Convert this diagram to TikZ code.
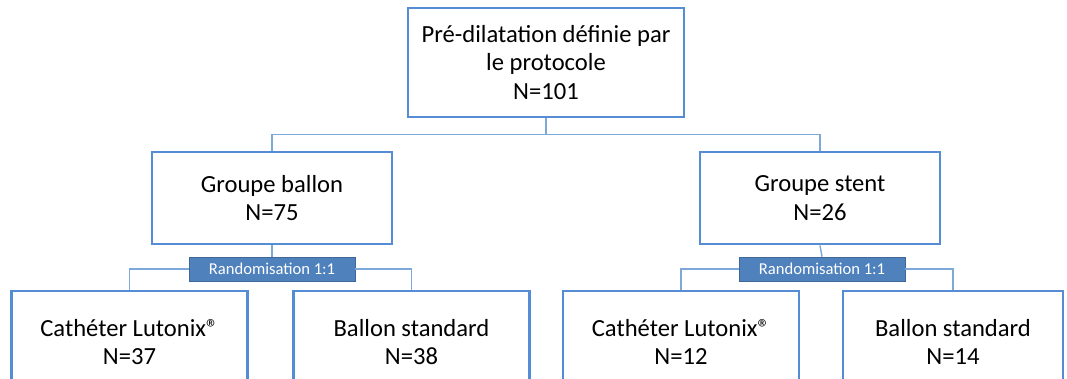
\documentclass[tikz,border=0pt]{standalone}
\usepackage{fontspec}
\setmainfont{Carlito}
\usetikzlibrary{positioning,calc}
\definecolor{FlowBlue}{RGB}{84,141,212}
\definecolor{FlowLine}{RGB}{125,168,218}
\definecolor{FlowFill}{RGB}{79,129,189}
\begin{document}
\begin{tikzpicture}[x=0.025cm,y=-0.025cm]
        \tikzset{box/.style={draw=FlowBlue,line width=2pt,fill=white,align=center,minimum width=6cm,minimum height=2.3cm,font=\fontsize{17.5}{20.5}\selectfont},rando/.style={fill=FlowFill,draw=FlowFill!80!black,line width=0.4pt,text=white,minimum width=4.15cm,minimum height=0.6cm,inner sep=0pt,font=\fontsize{11.8}{13}\selectfont},link/.style={draw=FlowLine,line width=1pt}}
        \clip (0,0) rectangle (1067,378);
        \fill[white] (0,0) rectangle (1067,378);
        \node[box,minimum width=6.9cm,minimum height=2.72cm] (top) at (546,62.5) {Pré-dilatation définie par\\le protocole\\N=101};
        \node[box] (ballon) at (272,198) {Groupe ballon\\N=75};
        \node[box] (stent) at (820,198) {Groupe stent\\N=26};
        \node[rando] (randA) at (272,269) {Randomisation 1:1};
        \node[rando] (randB) at (822,269) {Randomisation 1:1};
        \node[box,minimum width=5.9cm,minimum height=2.55cm] (cathA) at (129.5,342) {Cathéter Lutonix®\\N=37};
        \node[box,minimum width=5.9cm,minimum height=2.55cm] (stdA) at (411.5,342) {Ballon standard\\N=38};
        \node[box,minimum width=5.9cm,minimum height=2.55cm] (cathB) at (681,342) {Cathéter Lutonix®\\N=12};
        \node[box,minimum width=5.5cm,minimum height=2.55cm] (stdB) at (953,342) {Ballon standard\\N=14};
        \coordinate (split) at ($(top.south)+(0,16)$);
        \draw[link] (top.south) -- (split) -| (ballon.north);
        \draw[link] (split) -| (stent.north);
        \draw[link] (ballon.south) -- (randA.north);
        \draw[link] (stent.south) -- (randB.north);
        \draw[link] (randA.west) -| (cathA.north);
        \draw[link] (randA.east) -| (stdA.north);
        \draw[link] (randB.west) -| (cathB.north);
        \draw[link] (randB.east) -| (stdB.north);
      \end{tikzpicture}
\end{document}
